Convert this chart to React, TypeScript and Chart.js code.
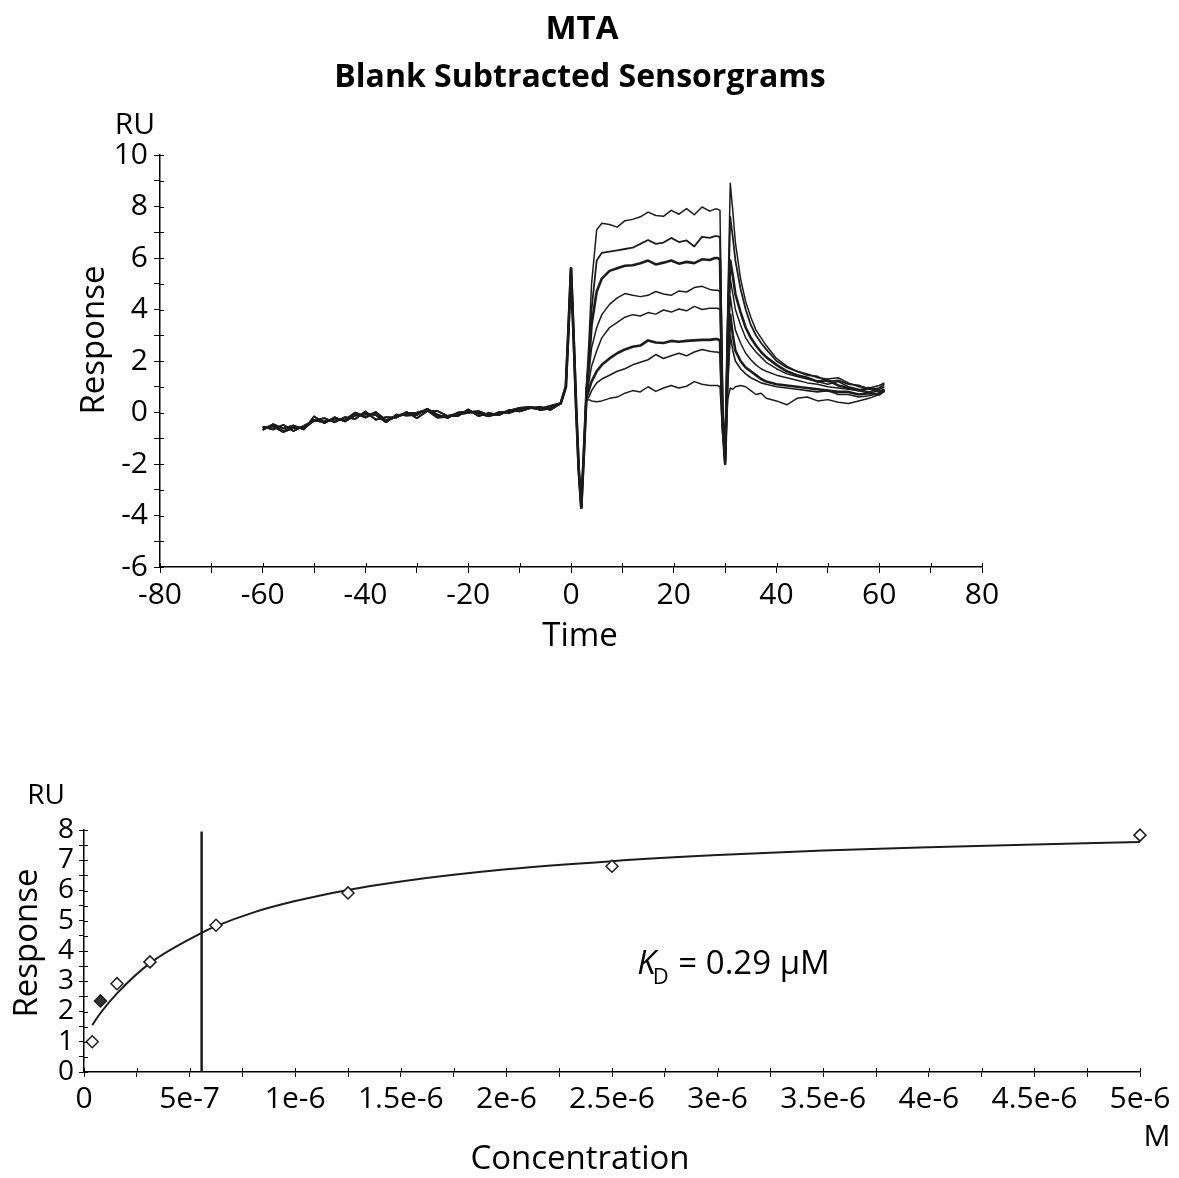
import React, { useEffect, useRef } from "react";
import { Chart, registerables } from "chart.js";

Chart.register(...registerables);

const FONT = "'Open Sans', 'Noto Sans', sans-serif";
const INK = "#1c1c1c";

// ---------- Top chart: blank subtracted sensorgrams ----------
const titleText = "MTA";
const subtitleText = "Blank Subtracted Sensorgrams";

const baselineTimes = [-60, -58, -56, -54, -52, -50, -48, -46, -44, -42, -40, -38, -36, -34, -32, -30, -28, -26, -24, -22, -20, -18, -16, -14, -12, -10, -8, -6, -4];
const baseA = [-0.68, -0.45, -0.62, -0.5, -0.66, -0.15, -0.42, -0.18, -0.35, -0.12, -0.05, -0.1, -0.38, -0.08, -0.12, -0.1, 0.15, -0.08, -0.22, 0.0, 0.05, -0.05, -0.15, 0.02, -0.02, 0.12, 0.22, 0.1, 0.15];
const baseB = [-0.55, -0.66, -0.48, -0.72, -0.52, -0.3, -0.22, -0.38, -0.18, -0.25, 0.04, -0.28, -0.18, -0.2, 0.02, -0.22, 0.05, 0.06, -0.14, -0.14, 0.12, -0.14, -0.02, -0.1, 0.1, 0.04, 0.16, 0.22, 0.1];
const baseC = [-0.62, -0.52, -0.74, -0.58, -0.6, -0.3, -0.36, -0.25, -0.3, -0.02, -0.18, 0.0, -0.32, -0.15, -0.04, -0.02, 0.1, -0.18, -0.15, -0.06, 0.0, 0.04, -0.12, -0.05, 0.06, 0.16, 0.2, 0.14, 0.24];

const spikeTimes = [-2, -1, -0.5, 0, 0.5, 1, 1.5, 2, 2.5];
const spikeValues = [0.35, 1.0, 3.2, 5.6, 3.0, 0.2, -2.2, -3.7, -1.6];

const assocTimes = [3, 3.5, 4, 5, 6, 7.5, 9, 10.5, 12, 13.5, 15, 16.5, 18, 19.5, 21, 22.5, 24, 25.5, 27, 28];
const dissocTimes = [28.5, 29, 29.5, 30, 30.5, 31, 31.5, 32, 33, 34, 35, 36, 37, 38, 40, 42, 44, 46, 48, 50, 52, 54, 56, 58, 60, 61];

const assoc1 = [1.0, 2.8, 5.0, 7.1, 7.35, 7.3, 7.2, 7.45, 7.5, 7.6, 7.78, 7.65, 7.62, 7.85, 7.7, 7.92, 7.68, 7.98, 7.82, 7.9];
const assoc2 = [0.9, 2.2, 4.0, 5.9, 6.2, 6.25, 6.3, 6.35, 6.4, 6.55, 6.7, 6.55, 6.6, 6.78, 6.62, 6.68, 6.45, 6.82, 6.78, 6.85];
const assoc3 = [0.8, 1.9, 3.4, 4.7, 5.2, 5.5, 5.6, 5.7, 5.72, 5.8, 5.9, 5.75, 5.82, 5.9, 5.78, 5.85, 5.8, 5.95, 5.92, 6.0];
const assoc4 = [0.7, 1.6, 2.5, 3.3, 3.8, 4.2, 4.45, 4.62, 4.55, 4.5, 4.55, 4.7, 4.6, 4.55, 4.72, 4.68, 4.85, 4.9, 4.78, 4.75];
const assoc5 = [0.6, 1.2, 1.8, 2.4, 2.9, 3.3, 3.5, 3.7, 3.8, 3.75, 3.88, 3.82, 3.98, 3.9, 4.02, 3.95, 4.12, 4.0, 4.05, 4.05];
const assoc6 = [0.55, 0.9, 1.2, 1.6, 1.85, 2.1, 2.3, 2.45, 2.55, 2.6, 2.8, 2.72, 2.7, 2.78, 2.75, 2.78, 2.8, 2.82, 2.82, 2.85];
const assoc7 = [0.5, 0.6, 0.85, 1.15, 1.3, 1.45, 1.6, 1.7, 1.85, 1.95, 2.05, 2.25, 2.1, 2.2, 2.3, 2.2, 2.35, 2.45, 2.38, 2.35];
const assoc8 = [0.45, 0.5, 0.45, 0.42, 0.45, 0.55, 0.6, 0.75, 0.85, 0.8, 1.0, 0.82, 0.95, 1.05, 0.95, 1.02, 1.2, 1.1, 1.05, 1.05];

const dissoc1 = [7.9, 7.85, 0.5, -2.0, 4.0, 8.9, 7.8, 6.6, 5.2, 4.3, 3.7, 3.2, 2.9, 2.6, 2.1, 1.8, 1.6, 1.5, 1.35, 1.3, 1.35, 1.15, 1.0, 0.95, 1.05, 1.15];
const dissoc2 = [6.85, 6.8, 0.3, -2.0, 3.5, 7.6, 6.8, 5.9, 4.8, 4.0, 3.4, 3.0, 2.7, 2.45, 2.0, 1.75, 1.6, 1.45, 1.4, 1.2, 1.25, 1.1, 1.05, 0.9, 0.95, 1.1];
const dissoc3 = [6.0, 5.95, 0.0, -1.9, 3.0, 5.9, 5.3, 4.6, 3.9, 3.3, 2.9, 2.6, 2.35, 2.15, 1.85, 1.6, 1.45, 1.35, 1.2, 1.25, 1.05, 0.95, 0.85, 0.95, 0.8, 0.9];
const dissoc4 = [4.75, 4.7, -0.2, -2.0, 2.5, 5.2, 4.6, 4.0, 3.4, 2.9, 2.6, 2.35, 2.15, 1.95, 1.7, 1.5, 1.4, 1.3, 1.2, 1.1, 1.2, 1.0, 0.9, 0.8, 0.9, 1.0];
const dissoc5 = [4.05, 4.0, -0.3, -1.9, 2.0, 4.5, 3.8, 3.2, 2.7, 2.3, 2.05, 1.85, 1.7, 1.6, 1.45, 1.35, 1.25, 1.15, 1.1, 1.0, 0.95, 0.9, 0.85, 0.75, 0.85, 0.8];
const dissoc6 = [2.85, 2.8, -0.5, -2.0, 1.5, 3.8, 3.0, 2.4, 2.0, 1.75, 1.6, 1.45, 1.3, 1.2, 1.1, 1.05, 1.0, 0.95, 0.9, 0.85, 0.8, 0.8, 0.7, 0.75, 0.7, 0.85];
const dissoc7 = [2.35, 2.3, -0.6, -1.9, 1.0, 3.0, 2.4, 2.0, 1.7, 1.5, 1.35, 1.25, 1.15, 1.1, 1.0, 0.95, 0.9, 0.85, 0.8, 0.85, 0.7, 0.7, 0.6, 0.65, 0.75, 0.9];
const dissoc8 = [1.05, 1.0, -0.8, -2.0, 0.5, 0.95, 0.9, 1.0, 1.05, 1.0, 0.85, 0.7, 0.75, 0.55, 0.45, 0.3, 0.55, 0.6, 0.45, 0.5, 0.4, 0.35, 0.45, 0.55, 0.7, 0.85];

const sensorSeries = [
  { base: baseA, assoc: assoc1, dissoc: dissoc1, width: 1.5 },
  { base: baseB, assoc: assoc2, dissoc: dissoc2, width: 1.8 },
  { base: baseC, assoc: assoc3, dissoc: dissoc3, width: 2.6 },
  { base: baseA, assoc: assoc4, dissoc: dissoc4, width: 1.5 },
  { base: baseB, assoc: assoc5, dissoc: dissoc5, width: 1.5 },
  { base: baseC, assoc: assoc6, dissoc: dissoc6, width: 2.6 },
  { base: baseA, assoc: assoc7, dissoc: dissoc7, width: 1.6 },
  { base: baseB, assoc: assoc8, dissoc: dissoc8, width: 1.5 },
];

// ---------- Bottom chart: steady state affinity ----------
const concentrations = [3.9e-8, 7.8e-8, 1.5625e-7, 3.125e-7, 6.25e-7, 1.25e-6, 2.5e-6, 5e-6];
const responses = [1.0, 2.35, 2.92, 3.64, 4.85, 5.92, 6.8, 7.83];
const filledPoint = [false, true, false, false, false, false, false, false];

const fitConc = [3.9e-8, 7.8e-8, 1.5625e-7, 3.125e-7, 5.57e-7, 6.25e-7, 8e-7, 1e-6, 1.25e-6, 1.5e-6, 2e-6, 2.5e-6, 3e-6, 3.5e-6, 4e-6, 4.5e-6, 5e-6];
const fitResp = [1.55, 1.95, 2.6, 3.6, 4.6, 4.82, 5.27, 5.65, 6.02, 6.3, 6.7, 6.97, 7.17, 7.32, 7.43, 7.52, 7.6];

const markerConc = 5.57e-7;
const markerRange = [0, 7.95];

const kdLabel = { k: "K", sub: "D", rest: " = 0.29 µM", x: 2.62e-6, y: 3.55 };

const fmtSci = (v: number) => {
  if (Math.abs(v) < 1e-12) return "0";
  const e = Math.floor(Math.log10(v) + 1e-9);
  const m = Math.round((v / Math.pow(10, e)) * 100) / 100;
  return `${m}e${e}`;
};

type TextItem = { text: string; x: (a: any) => number; y: (a: any) => number; size: number; bold?: boolean; rotate?: boolean; align?: CanvasTextAlign };

const textPlugin = (id: string, items: TextItem[]) => ({
  id,
  afterDraw(chart: any) {
    const ctx = chart.ctx as CanvasRenderingContext2D;
    const a = chart.chartArea;
    ctx.save();
    ctx.fillStyle = "#000";
    ctx.textBaseline = "middle";
    for (const it of items) {
      ctx.save();
      ctx.font = `${it.bold ? "bold " : ""}${it.size}px ${FONT}`;
      ctx.textAlign = it.align || "center";
      ctx.translate(it.x(a), it.y(a));
      if (it.rotate) ctx.rotate(-Math.PI / 2);
      ctx.fillText(it.text, 0, 0);
      ctx.restore();
    }
    ctx.restore();
  },
});

// short tick marks on the inner side of the axes (ticks cross the axis line)
const innerTicks = {
  id: "innerTicks",
  afterDraw(chart: any) {
    const ctx = chart.ctx as CanvasRenderingContext2D;
    const a = chart.chartArea;
    ctx.save();
    ctx.strokeStyle = "#000";
    ctx.lineWidth = 1;
    const xs = chart.scales.x;
    const ys = chart.scales.y;
    ctx.beginPath();
    xs.ticks.forEach((t: any) => {
      const p = Math.round(xs.getPixelForValue(t.value)) + 0.5;
      ctx.moveTo(p, a.bottom);
      ctx.lineTo(p, a.bottom - 4);
    });
    ys.ticks.forEach((t: any) => {
      const p = Math.round(ys.getPixelForValue(t.value)) + 0.5;
      ctx.moveTo(a.left, p);
      ctx.lineTo(a.left + 4, p);
    });
    ctx.stroke();
    ctx.restore();
  },
};

const kdPlugin = {
  id: "kdLabel",
  afterDraw(chart: any) {
    const ctx = chart.ctx as CanvasRenderingContext2D;
    const x = chart.scales.x.getPixelForValue(kdLabel.x);
    const y = chart.scales.y.getPixelForValue(kdLabel.y);
    ctx.save();
    ctx.fillStyle = "#000";
    ctx.textBaseline = "middle";
    ctx.textAlign = "left";
    ctx.font = `italic 33px ${FONT}`;
    ctx.fillText(kdLabel.k, x, y);
    let w = ctx.measureText(kdLabel.k).width;
    ctx.font = `22px ${FONT}`;
    ctx.fillText(kdLabel.sub, x + w - 3, y + 13);
    w += ctx.measureText(kdLabel.sub).width - 2;
    ctx.font = `33px ${FONT}`;
    ctx.fillText(kdLabel.rest, x + w, y);
    ctx.restore();
  },
};

const axisStyle = (tickLength: number) => ({
  grid: { display: true, drawOnChartArea: false, drawTicks: true, tickLength, color: "#000", lineWidth: 1 },
  border: { display: true, color: "#000", width: 1.5 },
});

function topConfig(): any {
  const datasets = sensorSeries.map((s, i) => ({
    label: `c${i + 1}`,
    data: [
      ...baselineTimes.map((t, j) => ({ x: t, y: s.base[j] })),
      ...spikeTimes.map((t, j) => ({ x: t, y: spikeValues[j] })),
      ...assocTimes.map((t, j) => ({ x: t, y: s.assoc[j] })),
      ...dissocTimes.map((t, j) => ({ x: t, y: s.dissoc[j] })),
    ],
    borderColor: INK,
    borderWidth: s.width,
    pointRadius: 0,
    tension: 0,
    fill: false,
    borderJoinStyle: "round",
  }));
  return {
    type: "line",
    data: { datasets },
    options: {
      animation: false,
      responsive: false,
      devicePixelRatio: 1,
      layout: { padding: { left: 0, right: 197, top: 155, bottom: 0 } },
      plugins: {
        legend: { display: false },
        tooltip: { enabled: false },
        title: { display: false },
      },
      scales: {
        x: {
          type: "linear",
          min: -80,
          max: 80,
          ...axisStyle(6),
          ticks: { stepSize: 10, autoSkip: false, maxRotation: 0, padding: 4, color: "#000", font: { family: FONT, size: 30 }, callback: (v: number) => (Math.round(v) % 20 === 0 ? String(v) : "") },
          afterFit: (s: any) => { s.height = 113; },
        },
        y: {
          type: "linear",
          min: -6,
          max: 10,
          ...axisStyle(6),
          ticks: { stepSize: 1, autoSkip: false, padding: 6, color: "#000", font: { family: FONT, size: 30 }, callback: (v: number) => (Math.round(v) % 2 === 0 ? String(v) : "") },
          afterFit: (s: any) => { s.width = 160; },
        },
      },
    },
    plugins: [
      innerTicks,
      textPlugin("topText", [
        { text: titleText, x: (a) => a.left + 422, y: (a) => a.top - 125, size: 33, bold: true },
        { text: subtitleText, x: (a) => a.left + 420, y: (a) => a.top - 77, size: 32, bold: true },
        { text: "RU", x: (a) => a.left - 25, y: (a) => a.top - 30, size: 30 },
        { text: "Response", x: (a) => a.left - 65, y: (a) => a.top + 185, size: 33, rotate: true },
        { text: "Time", x: (a) => a.left + 420, y: (a) => a.bottom + 70, size: 33 },
      ]),
    ],
  };
}

function bottomConfig(): any {
  return {
    type: "line",
    data: {
      datasets: [
        {
          label: "Response",
          data: concentrations.map((c, i) => ({ x: c, y: responses[i] })),
          showLine: false,
          clip: false,
          pointStyle: "rectRot",
          pointRadius: 6,
          pointBorderWidth: 1.5,
          pointBorderColor: INK,
          pointBackgroundColor: filledPoint.map((f) => (f ? "#333" : "#fff")),
        },
        {
          label: "Fit",
          data: fitConc.map((c, i) => ({ x: c, y: fitResp[i] })),
          borderColor: INK,
          borderWidth: 2,
          pointRadius: 0,
          cubicInterpolationMode: "monotone",
          fill: false,
        },
        {
          label: "Marker",
          data: markerRange.map((r) => ({ x: markerConc, y: r })),
          borderColor: INK,
          borderWidth: 2.5,
          pointRadius: 0,
          fill: false,
        },
      ],
    },
    options: {
      animation: false,
      responsive: false,
      devicePixelRatio: 1,
      layout: { padding: { left: 0, right: 39, top: 150, bottom: 0 } },
      plugins: { legend: { display: false }, tooltip: { enabled: false } },
      scales: {
        x: {
          type: "linear",
          min: 0,
          max: 5e-6,
          ...axisStyle(5),
          ticks: { stepSize: 2.5e-7, maxTicksLimit: 100, autoSkip: false, maxRotation: 0, padding: 4, color: "#000", font: { family: FONT, size: 30 }, callback: (v: number) => (Math.round(v / 2.5e-7) % 2 === 0 ? fmtSci(v) : "") },
          afterFit: (s: any) => { s.height = 106; },
        },
        y: {
          type: "linear",
          min: 0,
          max: 8,
          ...axisStyle(5),
          ticks: { stepSize: 0.5, autoSkip: false, padding: 5, color: "#000", font: { family: FONT, size: 28 }, callback: (v: number) => (Math.abs(v - Math.round(v)) < 1e-9 ? String(Math.round(v)) : "") },
          afterFit: (s: any) => { s.width = 84; },
        },
      },
    },
    plugins: [
      innerTicks,
      kdPlugin,
      textPlugin("bottomText", [
        { text: "RU", x: (a) => a.left - 38, y: (a) => a.top - 34, size: 28 },
        { text: "Response", x: (a) => a.left - 56, y: (a) => a.top + 113, size: 33, rotate: true },
        { text: "Concentration", x: (a) => a.left + 496, y: (a) => a.bottom + 88, size: 33 },
        { text: "M", x: (a) => a.right + 17, y: (a) => a.bottom + 65, size: 30 },
      ]),
    ],
  };
}

export default function App() {
  const topRef = useRef<HTMLCanvasElement>(null);
  const botRef = useRef<HTMLCanvasElement>(null);
  useEffect(() => {
    const c1 = new Chart(topRef.current as HTMLCanvasElement, topConfig());
    const c2 = new Chart(botRef.current as HTMLCanvasElement, bottomConfig());
    return () => {
      c1.destroy();
      c2.destroy();
    };
  }, []);
  return (
    <div style={{ position: "absolute", left: 0, top: 0, width: 1179, height: 1178, background: "#fff" }}>
      <canvas ref={topRef} width={1179} height={680} style={{ display: "block", width: 1179, height: 680 }} />
      <canvas ref={botRef} width={1179} height={498} style={{ display: "block", width: 1179, height: 498 }} />
    </div>
  );
}
